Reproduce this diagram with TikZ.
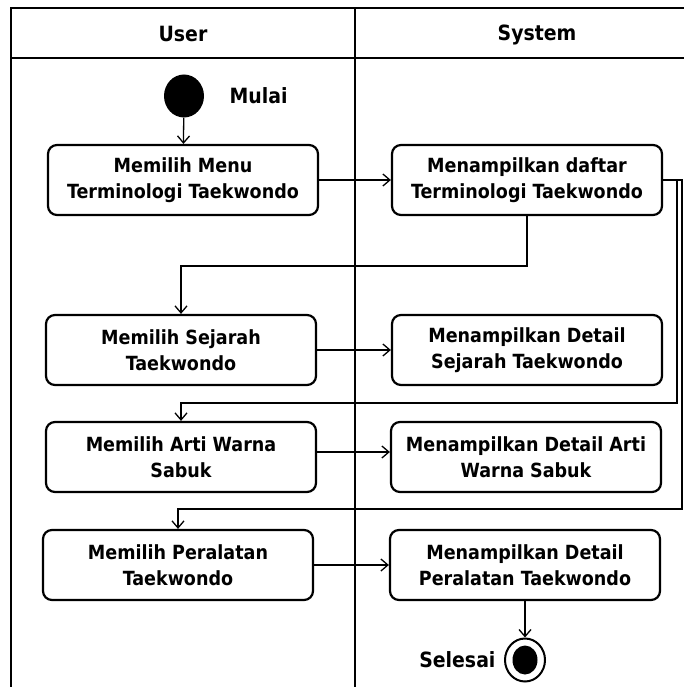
\documentclass[tikz,border=0pt]{standalone}
\usepackage{fontspec}
\setmainfont{DejaVu Sans}
\newfontfamily\condbold{DejaVu Sans Condensed Bold}
\usetikzlibrary{arrows.meta,shapes.geometric}
\begin{document}
\begin{tikzpicture}[x=1pt,y=-1pt,
  lane/.style={line width=1.8pt},
  act/.style={draw,line width=2.2pt,rounded corners=9pt,minimum width=270pt,minimum height=70pt,
    align=center,font=\condbold\fontsize{19.5}{26}\selectfont,inner sep=2pt},
  flow/.style={line width=1.3pt,-{Straight Barb[length=7pt,width=12pt,line width=1.3pt]}},
  lbl/.style={font=\condbold\fontsize{21}{24}\selectfont}]
\useasboundingbox (0,0) rectangle (684,687);
% swimlane frame
\draw[lane] (11,687) -- (11,8) -- (684,8);
\draw[lane] (11,58) -- (684,58);
\draw[lane] (355,8) -- (355,687);
\node[lbl] (hUser) at (183,34) {User};
\node[lbl] (hSys) at (537,35) {System};
% start and end
\node[ellipse,fill=black,minimum width=40pt,minimum height=43pt,inner sep=0pt] (start) at (184,96) {};
\node[lbl,anchor=west] (mulai) at (226,96) {Mulai};
% activities
\node[act] (b1) at (183,180) {Memilih Menu\\Terminologi Taekwondo};
\node[act] (b2) at (527,180) {Menampilkan daftar\\Terminologi Taekwondo};
\node[act] (b3) at (181,350) {Memilih Sejarah\\Taekwondo};
\node[act] (b4) at (527,350) {Menampilkan Detail\\Sejarah Taekwondo};
\node[act] (b5) at (181,457) {Memilih Arti Warna\\Sabuk};
\node[act] (b6) at (526,457) {Menampilkan Detail Arti\\Warna Sabuk};
\node[act] (b7) at (178,565) {Memilih Peralatan\\Taekwondo};
\node[act] (b8) at (525,565) {Menampilkan Detail\\Peralatan Taekwondo};
\node[ellipse,draw,line width=2pt,minimum width=40pt,minimum height=43pt,inner sep=0pt] (end) at (525,660) {};
\node[ellipse,fill=black,minimum width=25pt,minimum height=29pt,inner sep=0pt] (endin) at (525,660) {};
\node[lbl,anchor=east] (selesai) at (499,660) {Selesai};
% transitions
\draw[flow] (start) -- (b1);
\draw[flow] (b1) -- (b2);
\draw[flow] (b2.south) -- ++(0,50) -| (b3.north);
\draw[flow] (b3) -- (b4);
\draw[flow] (b2.east) -| (677,403) -| (b5.north);
\draw[flow] ([yshift=5pt]b5.east) -- ([yshift=5pt]b6.west);
\draw[flow] (b2.east) -| (682,509) -| (b7.north);
\draw[flow] (b7) -- (b8);
\draw[flow] (b8) -- (end);
\end{tikzpicture}
\end{document}
